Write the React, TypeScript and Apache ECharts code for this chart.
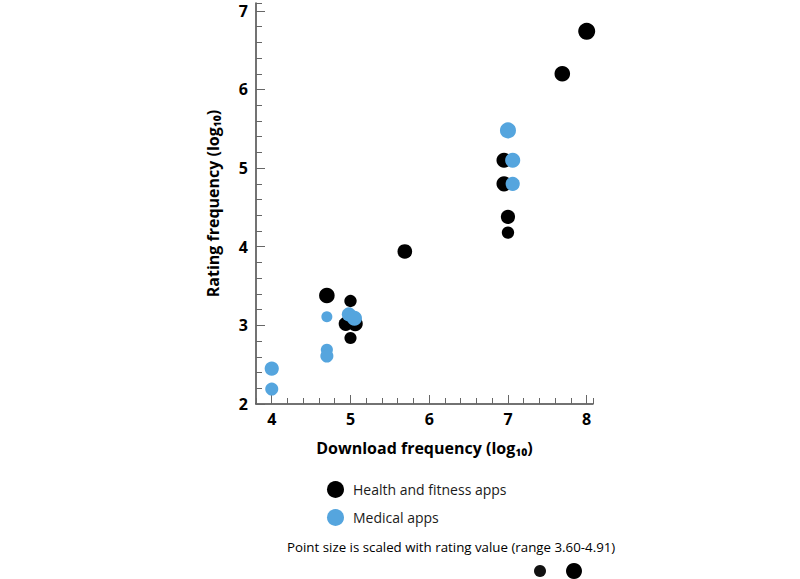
import React, { useEffect, useRef } from "react";
import * as echarts from "echarts";

const healthX = [8.0, 7.69, 6.95, 6.95, 7.0, 7.0, 5.69, 4.7, 5.0, 4.94, 5.06, 5.0];
const healthY = [6.74, 6.2, 5.1, 4.8, 4.38, 4.18, 3.94, 3.38, 3.31, 3.02, 3.02, 2.84];
const healthRating = [4.91, 4.6, 4.5, 4.5, 4.3, 3.9, 4.4, 4.6, 3.9, 4.3, 4.5, 3.85];

const medicalX = [7.0, 7.06, 7.06, 4.7, 4.98, 5.05, 4.7, 4.7, 4.0, 4.0];
const medicalY = [5.48, 5.1, 4.8, 3.11, 3.14, 3.09, 2.69, 2.61, 2.45, 2.19];
const medicalRating = [4.7, 4.5, 4.3, 3.6, 4.3, 4.5, 3.85, 4.05, 4.3, 4.05];

const xMajorTicks = [4, 5, 6, 7, 8];
const seriesNames = ["Health and fitness apps", "Medical apps"];
const noteText = "Point size is scaled with rating value (range 3.60-4.91)";

const BLACK = "#000000";
const BLUE = "#55A5DE";
const FONT = "'Open Sans', 'Noto Sans', sans-serif";

const sizeOf = (r: number) => 11 + ((r - 3.6) / 1.31) * 6;

export default function App() {
  const ref = useRef<HTMLDivElement>(null);
  useEffect(() => {
    if (!ref.current) return;
    const chart = echarts.init(ref.current, undefined, { renderer: "svg" });
    const healthData = healthX.map((x, i) => [x, healthY[i], healthRating[i]]);
    const medicalData = medicalX.map((x, i) => [x, medicalY[i], medicalRating[i]]);
    const labelStyle = { color: "#000", fontWeight: "bold" as const, fontSize: 16, fontFamily: FONT };
    chart.setOption({
      animation: false,
      grid: { left: 256, right: 207, top: 3, bottom: 175 },
      xAxis: [
        {
          type: "value",
          min: 3.8,
          max: 8.08,
          interval: 0.2,
          splitLine: { show: false },
          axisLine: { show: true, lineStyle: { color: "#444", width: 1.5 } },
          axisTick: { show: true, inside: true, length: 6, lineStyle: { color: "#666" } },
          axisLabel: { show: false },
          name: "Download frequency (log₁₀)",
          nameLocation: "middle",
          nameGap: 36,
          nameTextStyle: { ...labelStyle, fontSize: 16 },
        },
        {
          type: "value",
          position: "bottom",
          min: 3.8,
          max: 8.08,
          interval: 0.2,
          splitLine: { show: false },
          axisLine: { show: false },
          axisTick: { show: true, inside: true, length: 9, customValues: xMajorTicks, lineStyle: { color: "#666" } },
          axisLabel: { show: true, customValues: xMajorTicks, margin: 7, ...labelStyle },
        },
      ],
      yAxis: [
        {
          type: "value",
          min: 2,
          max: 7.1,
          interval: 0.2,
          splitLine: { show: false },
          axisLine: { show: true, lineStyle: { color: "#444", width: 1.5 } },
          axisTick: { show: true, inside: true, length: 6, lineStyle: { color: "#666" } },
          axisLabel: { show: false },
          name: "Rating frequency (log₁₀)",
          nameLocation: "middle",
          nameGap: 35,
          nameTextStyle: { ...labelStyle, fontSize: 16 },
        },
        {
          type: "value",
          position: "left",
          min: 2,
          max: 7.1,
          interval: 1,
          splitLine: { show: false },
          axisLine: { show: false },
          axisTick: { show: true, inside: true, length: 9, lineStyle: { color: "#666" } },
          axisLabel: { show: true, margin: 8, ...labelStyle },
        },
      ],
      legend: {
        orient: "vertical",
        left: 322,
        top: 476,
        icon: "circle",
        itemWidth: 17,
        itemHeight: 17,
        itemGap: 11,
        textStyle: { fontSize: 14, color: "#1a1a1a", fontFamily: FONT, padding: [0, 0, 0, 4] },
        data: seriesNames,
      },
      series: [
        {
          name: seriesNames[0],
          type: "scatter",
          data: healthData,
          symbolSize: (v: number[]) => sizeOf(v[2]),
          itemStyle: { color: BLACK, opacity: 1 },
        },
        {
          name: seriesNames[1],
          type: "scatter",
          data: medicalData,
          symbolSize: (v: number[]) => sizeOf(v[2]),
          itemStyle: { color: BLUE, opacity: 1 },
        },
      ],
      graphic: [
        {
          type: "text",
          left: 287,
          top: 540,
          style: { text: noteText, fontSize: 13.3, fill: "#000", fontFamily: FONT },
        },
        { type: "circle", shape: { cx: 540, cy: 571, r: 6 }, style: { fill: "#111" } },
        { type: "circle", shape: { cx: 574, cy: 571, r: 8 }, style: { fill: "#000" } },
      ],
    });
    return () => chart.dispose();
  }, []);
  return <div ref={ref} style={{ width: 800, height: 579, position: "absolute", left: 0, top: 0 }} />;
}
